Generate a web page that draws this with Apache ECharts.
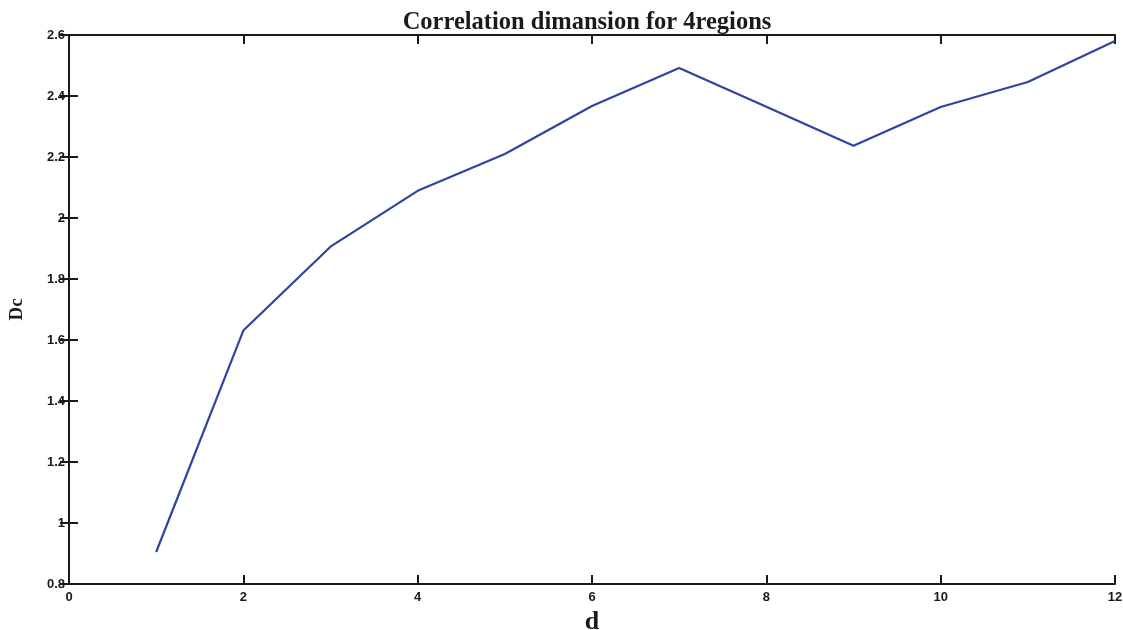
<!DOCTYPE html>
<html>
<head>
<meta charset="utf-8">
<script src="https://cdn.jsdelivr.net/npm/echarts@6/dist/echarts.min.js"></script>
<style>html,body{margin:0;padding:0;background:#fff;overflow:hidden;}#c{width:1123px;height:630px;}</style>
</head>
<body>
<div id="c"></div>
<script>
var dValues = [1, 2, 3, 4, 5, 6, 7, 8, 9, 10, 11, 12];
var dcValues = [0.905, 1.631, 1.906, 2.089, 2.21, 2.367, 2.492, 2.365, 2.237, 2.364, 2.446, 2.58];
var titleText = 'Correlation dimansion for 4regions';
var xName = 'd';
var yName = 'Dc';

var chart = echarts.init(document.getElementById('c'), null, {width: 1123, height: 630});
var axisLine = {show: true, lineStyle: {color: '#1a1a1a', width: 2}};
var tickIn = {show: true, inside: true, length: 9, lineStyle: {color: '#1a1a1a', width: 2}};
var lblFont = {fontFamily: 'Liberation Sans', fontWeight: 'bold', fontSize: 13, color: '#1a1a1a'};
function fmt(v){ return String(Math.round(v*10)/10); }
chart.setOption({
  animation: false,
  backgroundColor: '#fff',
  title: {text: titleText, left: 582, top: 5, textAlign: 'center',
    textStyle: {fontFamily: 'Liberation Serif', fontWeight: 'bold', fontSize: 24.5, color: '#1a1a1a'}},
  grid: {left: 69, right: 8, top: 35, bottom: 46, containLabel: false, outerBoundsMode: 'none'},
  xAxis: [
    {type: 'value', min: 0, max: 12, interval: 2, position: 'bottom',
      axisLine: axisLine, axisTick: tickIn, splitLine: {show: false},
      axisLabel: Object.assign({margin: 7, formatter: fmt}, lblFont),
      name: xName, nameLocation: 'middle', nameGap: 23,
      nameTextStyle: {fontFamily: 'Liberation Serif', fontWeight: 'bold', fontSize: 26, color: '#1a1a1a'}},
    {type: 'value', min: 0, max: 12, interval: 2, position: 'top',
      axisLine: axisLine, axisTick: tickIn, splitLine: {show: false}, axisLabel: {show: false}}
  ],
  yAxis: [
    {type: 'value', min: 0.8, max: 2.6, interval: 0.2, position: 'left',
      axisLine: axisLine, axisTick: tickIn, splitLine: {show: false},
      axisLabel: Object.assign({margin: 4, formatter: fmt}, lblFont),
      name: yName, nameLocation: 'middle', nameGap: 42, nameRotate: 90,
      nameTextStyle: {fontFamily: 'Liberation Serif', fontWeight: 'bold', fontSize: 19, color: '#1a1a1a'}},
    {type: 'value', min: 0.8, max: 2.6, interval: 0.2, position: 'right',
      axisLine: axisLine, axisTick: tickIn, splitLine: {show: false}, axisLabel: {show: false}}
  ],
  series: [{
    type: 'line', xAxisIndex: 0, yAxisIndex: 0,
    data: dValues.map(function(d, i){ return [d, dcValues[i]]; }),
    showSymbol: false, symbol: 'none',
    lineStyle: {color: '#2e44a0', width: 2.2}
  }]
});
</script>
</body>
</html>
